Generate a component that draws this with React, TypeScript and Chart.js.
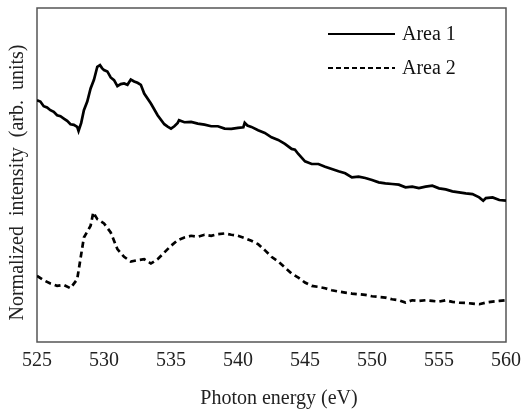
import React, { useEffect, useRef } from "react";
import { Chart, registerables } from "chart.js";

Chart.register(...registerables);

const energy1 = [
  525, 525.25, 525.5, 525.75, 526, 526.25, 526.5, 526.75, 527, 527.25, 527.5, 527.75, 528, 528.1, 528.3, 528.5, 528.75,
  529, 529.25, 529.5, 529.7, 529.85, 530, 530.25, 530.5, 530.75, 531, 531.25, 531.5, 531.75, 532, 532.25, 532.5, 532.75,
  533, 533.5, 534, 534.5, 534.75, 535, 535.25, 535.5, 535.6, 536, 536.5, 537, 537.5, 538, 538.5, 539, 539.5, 540, 540.4, 540.5, 540.7,
  541, 541.5, 542, 542.5, 543, 543.5, 544, 544.25, 544.5, 545, 545.5, 546, 546.5, 547, 547.5, 548, 548.5,
  549, 549.5, 550, 550.5, 551, 551.5, 552, 552.5, 553, 553.5, 554, 554.5, 555, 555.5, 556, 556.5,
  557, 557.5, 558, 558.3, 558.5, 559, 559.5, 560,
];
const area1 = [
  72.4, 72.0, 70.6, 70.2, 69.4, 68.9, 67.9, 67.6, 66.9, 66.2, 65.2, 65.0, 64.4, 63.2, 65.6, 69.4, 72.0,
  75.9, 78.5, 82.4, 82.9, 82.0, 81.4, 81.0, 79.2, 78.4, 76.6, 77.2, 77.4, 77.0, 78.6, 78.0, 77.6, 77.0,
  74.4, 71.4, 67.9, 65.2, 64.5, 63.9, 64.6, 65.6, 66.4, 65.8, 65.9, 65.4, 65.1, 64.6, 64.6, 63.9, 63.8, 64.1, 64.3, 65.6, 64.8,
  64.4, 63.4, 62.6, 61.3, 60.5, 59.3, 57.8, 57.6, 56.3, 54.1, 53.3, 53.3, 52.5, 51.8, 51.1, 50.5, 49.3,
  49.5, 49.1, 48.5, 47.8, 47.5, 47.3, 47.1, 46.3, 46.5, 46.1, 46.5, 46.8, 46.0, 45.7, 45.1, 44.8,
  44.5, 44.3, 43.3, 42.3, 43.1, 43.3, 42.5, 42.3,
];

const energy2 = [
  525, 525.5, 526, 526.5, 527, 527.5, 528, 528.5, 529, 529.2, 529.5, 530, 530.5, 531, 531.5, 532, 532.5,
  533, 533.5, 534, 534.5, 535, 535.5, 536, 536.5, 537, 537.5, 538, 538.5, 539, 539.5, 540, 540.5,
  541, 541.5, 542, 542.5, 543, 543.5, 544, 544.5, 545, 545.5, 546, 546.5, 547, 547.5, 548, 548.5,
  549, 549.5, 550, 550.5, 551, 551.5, 552, 552.5, 553, 553.5, 554, 554.5, 555, 555.5, 556, 556.5,
  557, 557.5, 558, 558.5, 559, 559.5, 560,
];
const area2 = [
  19.8, 18.5, 17.5, 16.8, 17.1, 16.1, 18.8, 31.3, 34.8, 38.8, 36.8, 35.5, 32.8, 27.8, 25.5, 24.1, 24.5,
  24.8, 23.5, 24.8, 26.8, 28.8, 30.5, 31.3, 31.8, 31.5, 32.1, 31.8, 32.3, 32.5, 32.1, 31.8, 31.1,
  30.3, 29.3, 27.5, 25.5, 24.1, 22.3, 20.5, 19.3, 17.8, 16.8, 16.5, 16.1, 15.5, 15.1, 14.8, 14.5,
  14.3, 14.1, 13.7, 13.5, 13.3, 12.8, 12.5, 11.8, 12.5, 12.3, 12.5, 12.3, 12.1, 12.5, 12.0, 11.8,
  11.7, 11.5, 11.3, 11.8, 12.1, 12.3, 12.5,
];

const seriesNames = ["Area 1", "Area 2"];
const xTicks = [525, 530, 535, 540, 545, 550, 555, 560];
const xTitle = "   Photon energy (eV)";
const yTitle = "Normalized  intensity  (arb.  units)   ";

const FONT = "'Liberation Serif', 'Times New Roman', serif";

const boxPlugin = {
  id: "frameBox",
  beforeDatasetsDraw(chart: any) {
    const { ctx, chartArea } = chart;
    ctx.save();
    ctx.strokeStyle = "#555";
    ctx.lineWidth = 1.5;
    ctx.strokeRect(chartArea.left, chartArea.top, chartArea.right - chartArea.left, chartArea.bottom - chartArea.top);
    ctx.restore();
  },
};

const legendPlugin = {
  id: "insideLegend",
  afterDraw(chart: any) {
    const { ctx, chartArea } = chart;
    const x0 = chartArea.right - 178;
    const lineLen = 67;
    const rows = [chartArea.top + 26, chartArea.top + 60];
    ctx.save();
    chart.data.datasets.forEach((ds: any, i: number) => {
      const y = rows[i];
      ctx.beginPath();
      ctx.strokeStyle = "#000";
      ctx.lineWidth = 2;
      ctx.setLineDash(i === 1 ? [5, 3] : []);
      ctx.moveTo(x0, y);
      ctx.lineTo(x0 + lineLen, y);
      ctx.stroke();
      ctx.setLineDash([]);
      ctx.fillStyle = "#111";
      ctx.font = `20px ${FONT}`;
      ctx.textBaseline = "middle";
      ctx.textAlign = "left";
      ctx.fillText(ds.label, x0 + lineLen + 7, y + 1);
    });
    ctx.restore();
  },
};

export default function App() {
  const canvasRef = useRef<HTMLCanvasElement | null>(null);

  useEffect(() => {
    document.body.style.margin = "0";
    const canvas = canvasRef.current;
    if (!canvas) return;
    const chart = new Chart(canvas, {
      type: "line",
      data: {
        datasets: [
          {
            label: seriesNames[0],
            data: energy1.map((x, i) => ({ x, y: area1[i] })),
            borderColor: "#000",
            borderWidth: 2.7,
            pointRadius: 0,
            tension: 0,
            fill: false,
          },
          {
            label: seriesNames[1],
            data: energy2.map((x, i) => ({ x, y: area2[i] })),
            borderColor: "#000",
            borderWidth: 2.7,
            borderDash: [6, 4],
            pointRadius: 0,
            tension: 0,
            fill: false,
          },
        ],
      },
      options: {
        responsive: false,
        animation: false,
        layout: { padding: { left: 0, right: 16, top: 8, bottom: 1 } },
        plugins: {
          legend: { display: false },
          tooltip: { enabled: false },
        },
        scales: {
          x: {
            type: "linear",
            min: xTicks[0],
            max: xTicks[xTicks.length - 1],
            afterBuildTicks: (axis: any) => {
              axis.ticks = xTicks.map((v) => ({ value: v }));
            },
            afterFit: (axis: any) => {
              axis.paddingRight = 0;
            },
            grid: { display: false, drawTicks: false },
            border: { display: false },
            ticks: {
              color: "#222",
              font: { family: FONT, size: 20 },
              padding: 7,
              maxRotation: 0,
            },
            title: {
              display: true,
              text: xTitle,
              color: "#222",
              font: { family: FONT, size: 20 },
              padding: { top: 7, bottom: 0 },
            },
          },
          y: {
            min: 0,
            max: 100,
            grid: { display: false, drawTicks: false },
            border: { display: false },
            ticks: { display: false },
            title: {
              display: true,
              text: yTitle,
              color: "#222",
              font: { family: FONT, size: 20 },
              padding: { top: 6, bottom: 7 },
            },
          },
        },
      },
      plugins: [boxPlugin, legendPlugin],
    });
    return () => chart.destroy();
  }, []);

  return (
    <div style={{ width: 522, height: 412 }}>
      <canvas ref={canvasRef} width={522} height={412} />
    </div>
  );
}
